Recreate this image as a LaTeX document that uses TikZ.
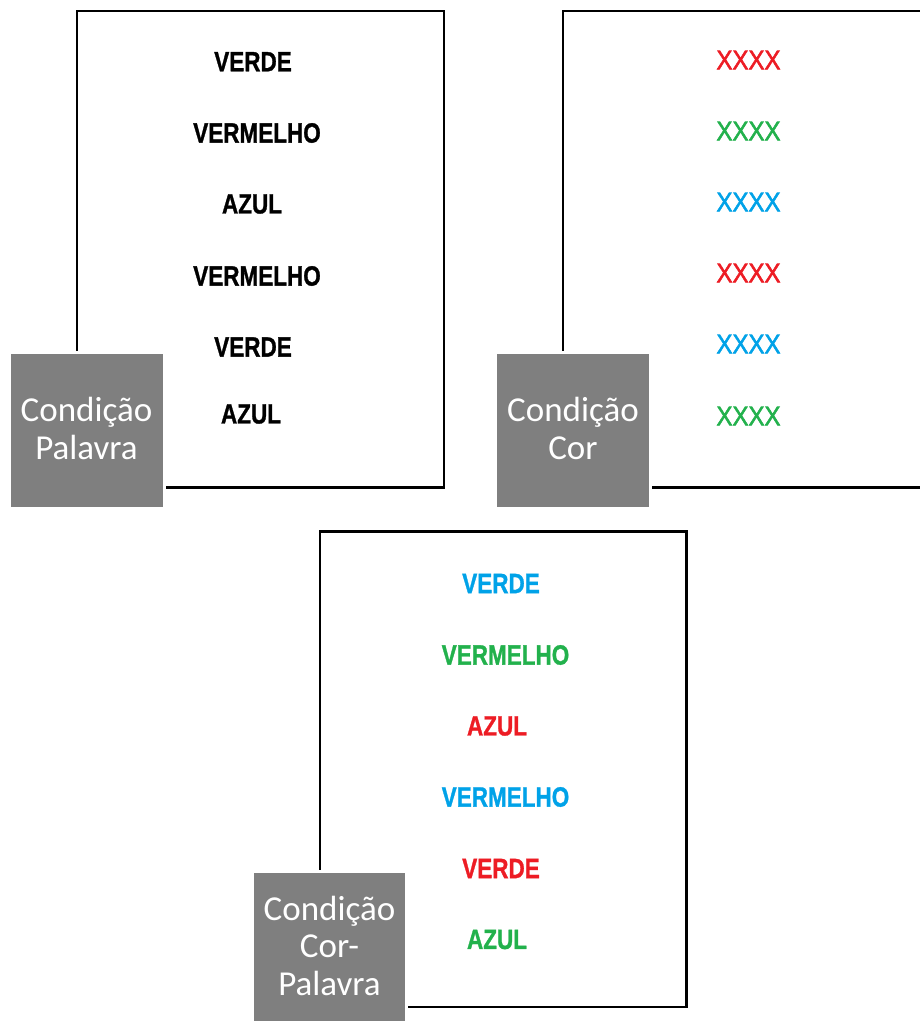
\documentclass[tikz,border=0pt]{standalone}
\usepackage{fontspec}
\usepackage{graphicx}
\setmainfont{Liberation Sans}
\newfontfamily\lblfont{Carlito}
\newfontfamily\xfont[FakeBold=2]{Liberation Sans}
\newfontfamily\wfont[FakeBold=1.2]{Liberation Sans Bold}
\definecolor{cred}{HTML}{ED1C24}
\definecolor{cgreen}{HTML}{22B14C}
\definecolor{cblue}{HTML}{00A2E8}
\definecolor{lblgray}{HTML}{7F7F7F}
\newcommand{\tallw}[1]{\scalebox{1}[1.24]{#1}}
\newcommand{\tallx}[1]{\scalebox{1}[1.12]{#1}}
\tikzset{
  card/.style={draw=black, line width=2.6pt, fill=white},
  tag/.style={fill=lblgray, draw=white, line width=3pt},
  word/.style={font=\wfont\fontsize{22.5}{26}\selectfont, inner sep=0pt, anchor=center},
  xword/.style={font=\xfont\fontsize{24}{28}\selectfont, inner sep=0pt, anchor=center},
  tagtext/.style={font=\lblfont\fontsize{35}{37.5}\selectfont, text=white, inner sep=0pt, anchor=base}
}
\begin{document}
\begin{tikzpicture}[x=1pt,y=-1pt]
\useasboundingbox (0,0) rectangle (920,1021);
\clip (0,0) rectangle (920,1021);
\fill[white] (0,0) rectangle (920,1021);
% card 1
\draw[card] (77,11) rectangle (444,487.5);
\node[word] (p1) at (253,61.7) {\tallw{VERDE}};
\node[word] (p2) at (257,133) {\tallw{VERMELHO}};
\node[word] (p3) at (252,204) {\tallw{AZUL}};
\node[word] (p4) at (257,276) {\tallw{VERMELHO}};
\node[word] (p5) at (253,347) {\tallw{VERDE}};
\node[word] (p6) at (251,414) {\tallw{AZUL}};
\draw[tag] (9.5,352) rectangle (164,508);
\node[tagtext] (t1a) at (86.5,421.7) {Condição};
\node[tagtext] (t1b) at (86.5,459.3) {Palavra};
% card 2
\draw[card] (563,11) rectangle (940,487.5);
\node[xword, text=cred] (c1) at (748.5,60) {\tallx{XXXX}};
\node[xword, text=cgreen] (c2) at (748.5,131) {\tallx{XXXX}};
\node[xword, text=cblue] (c3) at (748.5,202) {\tallx{XXXX}};
\node[xword, text=cred] (c4) at (748.5,273) {\tallx{XXXX}};
\node[xword, text=cblue] (c5) at (748.5,344) {\tallx{XXXX}};
\node[xword, text=cgreen] (c6) at (748.5,416) {\tallx{XXXX}};
\draw[tag] (495.5,352) rectangle (650.5,508);
\node[tagtext] (t2a) at (573,421.7) {Condição};
\node[tagtext] (t2b) at (573,459.3) {Cor};
% card 3
\draw[card] (320,531.5) rectangle (686.5,1007);
\node[word, text=cblue] (w1) at (501,583.5) {\tallw{VERDE}};
\node[word, text=cgreen] (w2) at (505.5,655) {\tallw{VERMELHO}};
\node[word, text=cred] (w3) at (497,726) {\tallw{AZUL}};
\node[word, text=cblue] (w4) at (505.5,797) {\tallw{VERMELHO}};
\node[word, text=cred] (w5) at (501,868.5) {\tallw{VERDE}};
\node[word, text=cgreen] (w6) at (497,939.5) {\tallw{AZUL}};
\draw[tag] (252.5,871) rectangle (406.5,1030);
\node[tagtext] (t3a) at (329.5,920) {Condição};
\node[tagtext] (t3b) at (329.5,957.3) {Cor-};
\node[tagtext] (t3c) at (329.5,995) {Palavra};
\end{tikzpicture}
\end{document}
